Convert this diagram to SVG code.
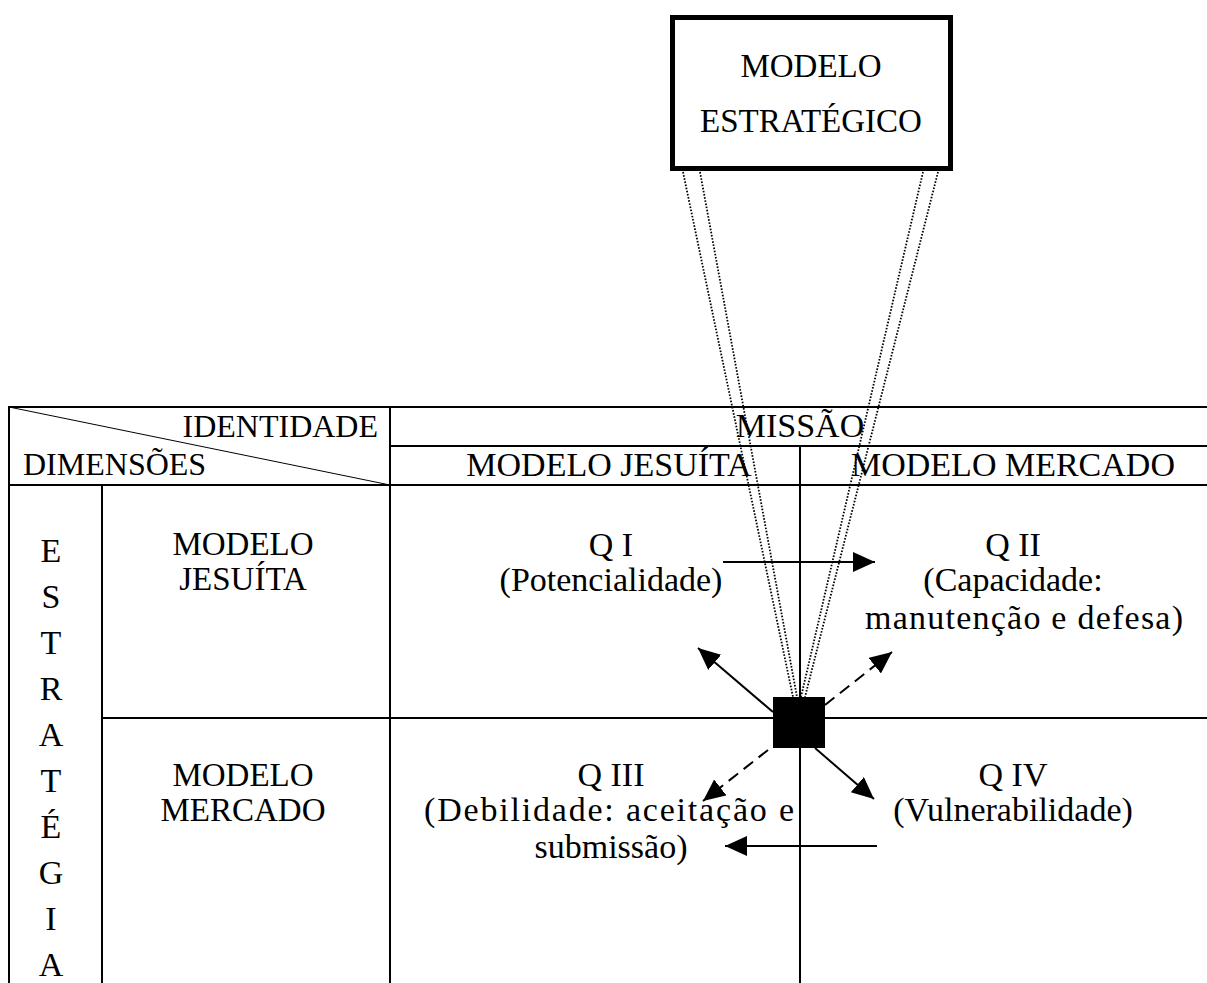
<svg xmlns="http://www.w3.org/2000/svg" width="1207" height="983" viewBox="0 0 1207 983">
<style>
text{font-family:"Liberation Serif","Times New Roman",serif;font-size:34px;fill:#000;text-anchor:middle}
.grid{stroke:#000;stroke-width:2;fill:none}
.dot{stroke:#000;stroke-width:1.8;stroke-dasharray:1.6 1.6;fill:none}
.arr{stroke:#000;stroke-width:2;fill:none;marker-end:url(#ah)}
.dash{stroke-dasharray:12 7}
</style>
<defs>
<marker id="ah" markerUnits="userSpaceOnUse" markerWidth="24" markerHeight="22" refX="22" refY="10" orient="auto">
<path d="M0,0 L22,10 L0,20 Z" fill="#000"/>
</marker>
</defs>
<rect width="1207" height="983" fill="#fff"/>
<g id="table">
<line class="grid" x1="9" y1="407" x2="1207" y2="407"/>
<line class="grid" x1="390" y1="446" x2="1207" y2="446"/>
<line class="grid" x1="9" y1="485" x2="1207" y2="485"/>
<line class="grid" x1="102" y1="718" x2="1207" y2="718"/>
<line class="grid" x1="9" y1="406" x2="9" y2="983"/>
<line class="grid" x1="102" y1="485" x2="102" y2="983"/>
<line class="grid" x1="390" y1="406" x2="390" y2="983"/>
<line class="grid" x1="800" y1="446" x2="800" y2="983"/>
<line x1="9" y1="407" x2="390" y2="485" stroke="#000" stroke-width="1"/>
<text x="378" y="437" style="text-anchor:end;font-size:32px">IDENTIDADE</text>
<text x="23" y="475" style="text-anchor:start;font-size:32px">DIMENSÕES</text>
<text x="800" y="437">MISSÃO</text>
<text x="609" y="476">MODELO JESUÍTA</text>
<text x="1013" y="476">MODELO MERCADO</text>
</g>
<g id="estrategia">
<text x="51" y="562">E</text>
<text x="51" y="608">S</text>
<text x="51" y="654">T</text>
<text x="51" y="700">R</text>
<text x="51" y="746">A</text>
<text x="51" y="792">T</text>
<text x="51" y="838">É</text>
<text x="51" y="884">G</text>
<text x="51" y="930">I</text>
<text x="51" y="976">A</text>
</g>
<g id="row-jesuita">
<text x="243" y="555" style="font-size:33px">MODELO</text>
<text x="243" y="590" style="font-size:33px">JESUÍTA</text>
</g>
<g id="row-mercado">
<text x="243" y="786" style="font-size:33px">MODELO</text>
<text x="243" y="821" style="font-size:33px">MERCADO</text>
</g>
<g id="q1">
<text x="611" y="556">Q I</text>
<text x="611" y="591">(Potencialidade)</text>
</g>
<g id="q2">
<text x="1013" y="556">Q II</text>
<text x="1013" y="591">(Capacidade:</text>
<text x="1024" y="629" textLength="318" lengthAdjust="spacing">manutenção e defesa)</text>
</g>
<g id="q3">
<text x="611" y="786">Q III</text>
<text x="609" y="821" textLength="370" lengthAdjust="spacing">(Debilidade: aceitação e</text>
<text x="611" y="858">submissão)</text>
</g>
<g id="q4">
<text x="1013" y="786">Q IV</text>
<text x="1013" y="821">(Vulnerabilidade)</text>
</g>
<g id="modelo-estrategico">
<rect x="672.5" y="17.5" width="278" height="151" fill="#fff" stroke="#000" stroke-width="5"/>
<text x="811" y="77" style="font-size:33px">MODELO</text>
<text x="811" y="132" style="font-size:33px">ESTRATÉGICO</text>
</g>
<g id="connectors">
<line class="dot" x1="683" y1="172" x2="793" y2="697"/>
<line class="dot" x1="700" y1="172" x2="797" y2="697"/>
<line class="dot" x1="923" y1="172" x2="801" y2="697"/>
<line class="dot" x1="938" y1="172" x2="805" y2="697"/>
<line class="arr" x1="723" y1="562" x2="875" y2="562"/>
<line class="arr" x1="877" y1="846" x2="725" y2="846"/>
<line class="arr" x1="773" y1="712" x2="698" y2="648"/>
<line class="arr dash" x1="825" y1="705" x2="892" y2="652"/>
<line class="arr dash" x1="768" y1="750" x2="703" y2="801"/>
<line class="arr" x1="815" y1="748" x2="874" y2="799"/>
</g>
<g id="center-node">
<rect x="773" y="697" width="52" height="51" fill="#000"/>
</g>
</svg>
